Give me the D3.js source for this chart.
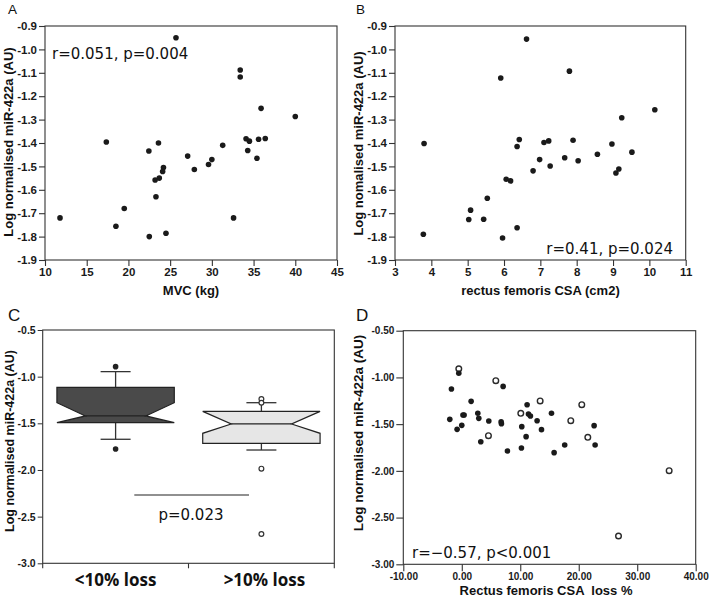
<!DOCTYPE html>
<html><head><meta charset="utf-8">
<script src="https://cdn.jsdelivr.net/npm/d3@7"></script>
<style>
body{margin:0;background:#fff;}
svg{display:block;}
.tick text{font-family:"Liberation Sans",Arial,sans-serif;font-weight:bold;fill:#1a1a1a;}
.domain{display:none;}
.tick line{stroke:#333;}
</style>
</head><body>
<svg id="chart" width="709" height="600"></svg>
<script>
// ---------- Panel A: MVC vs miR-422a ----------
const mvcX = [11.8,17.35,18.5,19.5,22.45,22.5,23.6,23.2,23.7,23.3,24.2,24.1,24.5,25.7,27.1,27.9,29.6,30.0,31.3,32.6,33.4,33.4,34.1,34.3,34.5,35.4,35.6,35.9,36.4,40.0];
const mvcY = [-1.72,-1.396,-1.756,-1.68,-1.434,-1.80,-1.40,-1.558,-1.55,-1.63,-1.505,-1.522,-1.786,-0.95,-1.456,-1.513,-1.492,-1.471,-1.41,-1.72,-1.088,-1.118,-1.382,-1.432,-1.392,-1.465,-1.384,-1.252,-1.381,-1.287];
const mvcTicks = [10,15,20,25,30,35,40,45];
const mirTicksAB = [-0.9,-1.0,-1.1,-1.2,-1.3,-1.4,-1.5,-1.6,-1.7,-1.8,-1.9];

// ---------- Panel B: rectus femoris CSA vs miR-422a ----------
const csaX = [3.8,3.78,5.03,5.08,5.44,5.54,5.91,5.96,6.06,6.18,6.36,6.36,6.42,6.62,6.8,6.98,7.1,7.23,7.27,7.67,7.8,7.9,8.04,8.57,8.97,9.08,9.16,9.24,9.52,10.15];
const csaY = [-1.402,-1.79,-1.727,-1.687,-1.726,-1.636,-1.122,-1.806,-1.555,-1.562,-1.415,-1.762,-1.385,-0.956,-1.519,-1.471,-1.398,-1.391,-1.498,-1.463,-1.093,-1.388,-1.476,-1.448,-1.404,-1.528,-1.511,-1.292,-1.439,-1.258];
const csaTicks = [3,4,5,6,7,8,9,10,11];

// ---------- Panel C: box plots ----------
const boxCategories = ["<10% loss", ">10% loss"];
const boxQ3 = [-1.114,-1.372];
const boxNotchHigh = [-1.279,-1.372];
const boxMedian = [-1.421,-1.507];
const boxNotchLow = [-1.493,-1.607];
const boxQ1 = [-1.493,-1.714];
const boxWhiskerHigh = [-0.946,-1.279];
const boxWhiskerLow = [-1.671,-1.786];
const boxOutliers = [[-0.893,-1.775],[-1.239,-1.279,-1.986,-2.686]];
const boxOutlierOpen = [false,true];
const boxFill = ["#4a4a4a","#e6e6e6"];
const mirTicksC = [-0.5,-1.0,-1.5,-2.0,-2.5,-3.0];

// ---------- Panel D: CSA loss % vs miR-422a ----------
const lossX = [-0.51,-0.51,-1.77,-2.05,-0.8,0.0,0.2,0.4,1.6,2.74,2.91,3.25,4.56,4.62,5.82,6.73,6.78,7.07,7.81,10.09,10.26,10.2,11.0,11.17,11.4,11.74,12.88,13.4,13.63,15.34,15.79,17.6,18.64,20.52,21.55,22.63,22.8,26.8,35.46];
const lossY = [-0.907,-0.956,-1.124,-1.449,-1.556,-1.513,-1.402,-1.402,-1.256,-1.384,-1.438,-1.688,-1.623,-1.466,-1.035,-1.474,-1.495,-1.096,-1.787,-1.384,-1.527,-1.755,-1.634,-1.292,-1.392,-1.413,-1.463,-1.252,-1.559,-1.384,-1.805,-1.723,-1.463,-1.292,-1.641,-1.516,-1.723,-2.697,-1.998];
const lossOpen = [1,0,0,0,0,0,0,0,0,0,0,0,1,0,1,0,0,0,0,1,0,0,0,0,0,0,0,1,0,0,0,0,1,1,1,0,0,1,1];
const lossTicks = [-10,0,10,20,30,40];
const mirTicksD = [-0.5,-1.0,-1.5,-2.0,-2.5,-3.0];

const svg = d3.select("#chart");
const FRAME = "#333";

function frame(g, x0, x1, y0, y1){
  g.append("rect").attr("x",x0).attr("y",y0).attr("width",x1-x0).attr("height",y1-y0)
    .attr("fill","none").attr("stroke",FRAME).attr("stroke-width",1.1);
}
function letter(t,x,y,size){
  svg.append("text").attr("x",x).attr("y",y).text(t)
    .attr("font-family","'Liberation Sans',Arial,sans-serif").attr("font-size",size).attr("fill","#111");
}
function ytitle(t,x,y,size){
  svg.append("text").attr("transform",`translate(${x},${y}) rotate(-90)`).attr("text-anchor","middle")
    .attr("dominant-baseline","central")
    .attr("font-family","'Liberation Sans',Arial,sans-serif").attr("font-weight","bold").attr("font-size",size)
    .attr("fill","#111").text(t);
}
function xtitle(t,x,y,size){
  svg.append("text").attr("x",x).attr("y",y).attr("text-anchor","middle").style("white-space","pre")
    .attr("font-family","'Liberation Sans',Arial,sans-serif").attr("font-weight","bold").attr("font-size",size)
    .attr("fill","#111").text(t);
}
function note(t,x,y,anchor){
  svg.append("text").attr("x",x).attr("y",y).attr("text-anchor",anchor||"start")
    .attr("font-family","'DejaVu Sans',sans-serif").attr("font-size",15).attr("fill","#111").text(t);
}

// ---------- scatter panel builder ----------
function scatterPanel(opt){
  const g = svg.append("g");
  const x = d3.scaleLinear().domain(opt.xDomain).range([opt.x0,opt.x1]);
  const y = d3.scaleLinear().domain(opt.yDomain).range([opt.y1,opt.y0]);
  g.append("g").attr("transform",`translate(0,${opt.y1})`)
    .call(d3.axisBottom(x).tickValues(opt.xTicks).tickSize(opt.tick).tickPadding(opt.pad).tickFormat(opt.xFmt));
  g.append("g").attr("transform",`translate(${opt.x0},0)`)
    .call(d3.axisLeft(y).tickValues(opt.yTicks).tickSize(opt.tick).tickPadding(opt.pad).tickFormat(opt.yFmt));
  g.selectAll(".tick text").attr("font-size",opt.fs);
  g.selectAll(".tick line").attr("stroke-width",1.1);
  frame(g,opt.x0,opt.x1,opt.y0,opt.y1);
  g.selectAll("circle.pt").data(opt.xs.map((v,i)=>({x:v,y:opt.ys[i],o:opt.open?opt.open[i]:0})))
    .join("circle").attr("class","pt")
    .attr("cx",d=>x(d.x)).attr("cy",d=>y(d.y)).attr("r",opt.r)
    .attr("fill",d=>d.o?"#fff":"#1a1a1a")
    .attr("stroke",d=>d.o?"#2a2a2a":"none").attr("stroke-width",d=>d.o?1.4:0);
  return {x,y};
}

// Panel A
scatterPanel({x0:45,x1:337,y0:26,y1:260,xDomain:[10,45],yDomain:[-1.9,-0.9],
  xTicks:mvcTicks,yTicks:mirTicksAB,xFmt:d=>String(d),yFmt:d=>d.toFixed(1),
  tick:6,pad:2,fs:11.5,xs:mvcX,ys:mvcY,r:2.8});
letter("A",8,14,13.5);
ytitle("Log normalised miR-422a (AU)",8.5,142,13);
xtitle("MVC (kg)",191,295,13);
note("r=0.051, p=0.004",52,59);

// Panel B
scatterPanel({x0:395,x1:685.7,y0:26,y1:260,xDomain:[3,11],yDomain:[-1.9,-0.9],
  xTicks:csaTicks,yTicks:mirTicksAB,xFmt:d=>String(d),yFmt:d=>d.toFixed(1),
  tick:6,pad:2,fs:11.5,xs:csaX,ys:csaY,r:2.8});
letter("B",356,14,13.5);
ytitle("Log nomalised miR-422a (AU)",358.5,143.5,13);
xtitle("rectus femoris CSA (cm2)",540.5,295,13);
note("r=0.41, p=0.024",673,254,"end");

// Panel C
(function(){
  const x0=42.7,x1=334.3,y0=330,y1=563.3;
  const g = svg.append("g");
  const x = d3.scaleBand().domain(boxCategories).range([x0,x1]).paddingInner(0).paddingOuter(0);
  const y = d3.scaleLinear().domain([-3,-0.5]).range([y1,y0]);
  g.append("g").attr("transform",`translate(${x0},0)`)
    .call(d3.axisLeft(y).tickValues(mirTicksC).tickSize(5).tickPadding(2).tickFormat(d=>d.toFixed(1)));
  g.selectAll(".tick text").attr("font-size",10.5);
  const edges = [x0, x(boxCategories[1]), x1];
  g.selectAll("line.ct").data(edges).join("line").attr("class","ct")
    .attr("x1",d=>d).attr("x2",d=>d).attr("y1",y1).attr("y2",y1+5).attr("stroke",FRAME).attr("stroke-width",1.1);
  g.selectAll("text.cat").data(boxCategories).join("text").attr("class","cat")
    .attr("x",d=>x(d)+x.bandwidth()/2+ (d===boxCategories[1]?3:0)).attr("y",586)
    .attr("text-anchor","middle").attr("font-family","'Open Sans',sans-serif").attr("font-weight",700)
    .attr("font-size",17).attr("fill","#111").text(d=>d);
  frame(g,x0,x1,y0,y1);
  const bw = x.bandwidth()*0.805, inset = 28.5, capW = 30;
  boxCategories.forEach((c,i)=>{
    const cx = x(c)+x.bandwidth()/2, l = cx-bw/2, r = cx+bw/2;
    g.append("line").attr("x1",cx).attr("x2",cx).attr("y1",y(boxQ3[i])).attr("y2",y(boxWhiskerHigh[i])).attr("stroke","#333").attr("stroke-width",1.3);
    g.append("line").attr("x1",cx).attr("x2",cx).attr("y1",y(boxQ1[i])).attr("y2",y(boxWhiskerLow[i])).attr("stroke","#333").attr("stroke-width",1.3);
    [boxWhiskerHigh[i],boxWhiskerLow[i]].forEach(v=>{
      g.append("line").attr("x1",cx-capW/2).attr("x2",cx+capW/2).attr("y1",y(v)).attr("y2",y(v)).attr("stroke","#333").attr("stroke-width",1.3);
    });
    const pts = [
      [l,y(boxQ3[i])],[r,y(boxQ3[i])],[r,y(boxNotchHigh[i])],[r-inset,y(boxMedian[i])],
      [r,y(boxNotchLow[i])],[r,y(boxQ1[i])],[l,y(boxQ1[i])],[l,y(boxNotchLow[i])],
      [l+inset,y(boxMedian[i])],[l,y(boxNotchHigh[i])]
    ];
    g.append("path").attr("d",d3.line()(pts)+"Z").attr("fill",boxFill[i]).attr("stroke","#222").attr("stroke-width",1.2);
    g.append("line").attr("x1",l+inset).attr("x2",r-inset).attr("y1",y(boxMedian[i])).attr("y2",y(boxMedian[i])).attr("stroke","#222").attr("stroke-width",1.3);
    g.selectAll(null).data(boxOutliers[i]).join("circle")
      .attr("cx",cx).attr("cy",d=>y(d)).attr("r",boxOutlierOpen[i]?2.4:2.8)
      .attr("fill",boxOutlierOpen[i]?"#fff":"#222").attr("stroke",boxOutlierOpen[i]?"#333":"none").attr("stroke-width",1.2);
  });
  g.append("line").attr("x1",134.3).attr("x2",249).attr("y1",y(-2.268)).attr("y2",y(-2.268)).attr("stroke","#222").attr("stroke-width",1.2);
})();
letter("C",8,321,17);
ytitle("Log normalised miR-422a (AU)",9.5,441,12.5);
note("p=0.023",191,520,"middle");

// Panel D
scatterPanel({x0:403.3,x1:695.7,y0:330.7,y1:564.3,xDomain:[-10,40],yDomain:[-3,-0.5],
  xTicks:lossTicks,yTicks:mirTicksD,xFmt:d=>d.toFixed(2),yFmt:d=>d.toFixed(2),
  tick:7,pad:2,fs:10,xs:lossX,ys:lossY,open:lossOpen,r:2.8});
letter("D",356,321,17);
ytitle("Log normalised miR-422a (AU)",358.5,433,13.5);
xtitle("Rectus femoris CSA  loss %",546,595,13);
note("r=\u22120.57, p<0.001",412,558);
</script>
</body></html>
